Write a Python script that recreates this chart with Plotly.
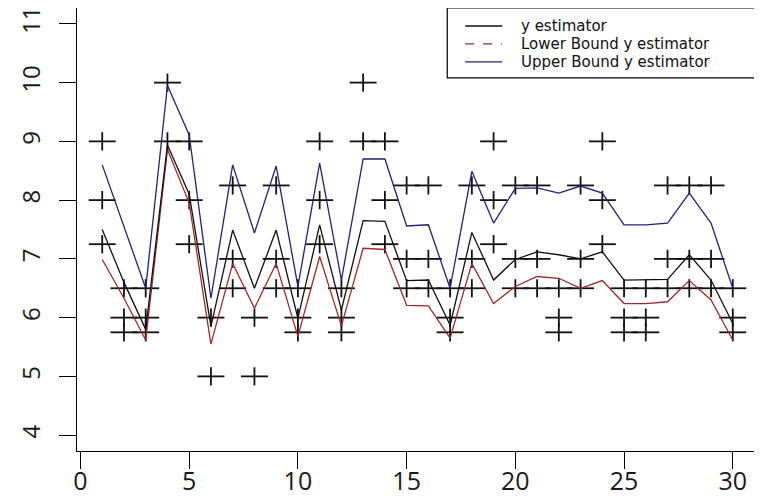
import plotly.graph_objects as go

# ---- data ----
x_idx = list(range(1, 31))
y_estimator = [7.50, 6.60, 5.80, 8.94, 8.10, 5.85, 7.49, 6.50, 7.49, 5.99,
               7.58, 6.13, 7.65, 7.64, 6.63, 6.64, 5.87, 7.45, 6.64, 6.99,
               7.12, 7.07, 7.00, 7.12, 6.64, 6.65, 6.65, 7.07, 6.64, 5.90]
lower_bound = [6.99, 6.33, 5.62, 8.86, 7.95, 5.55, 6.92, 6.16, 6.92, 5.68,
               7.04, 5.86, 7.18, 7.16, 6.21, 6.20, 5.65, 6.92, 6.24, 6.53,
               6.70, 6.67, 6.50, 6.63, 6.24, 6.24, 6.27, 6.63, 6.30, 5.62]
upper_bound = [8.60, 7.55, 6.50, 9.95, 9.11, 6.33, 8.60, 7.44, 8.58, 6.53,
               8.63, 6.64, 8.70, 8.70, 7.56, 7.58, 6.50, 8.49, 7.61, 8.20,
               8.21, 8.12, 8.24, 8.12, 7.58, 7.58, 7.61, 8.12, 7.61, 6.50]

# observed values at each index
obs_values = {
    1: [9, 8, 7.25], 2: [6.5, 6, 5.75], 3: [6.5, 6, 5.75], 4: [10, 9],
    5: [9, 8, 7.25], 6: [6, 5], 7: [8.25, 7, 6.5], 8: [6, 5],
    9: [8.25, 7, 6.5], 10: [6.5, 6, 5.75], 11: [9, 8, 7.25], 12: [6.5, 6, 5.75],
    13: [10, 9], 14: [9, 8, 7.25], 15: [8.25, 7, 6.5], 16: [8.25, 7, 6.5],
    17: [6.5, 6, 5.75], 18: [8.25, 7, 6.5], 19: [9, 8, 7.25], 20: [8.25, 7, 6.5],
    21: [8.25, 7, 6.5], 22: [6.5, 6, 5.75], 23: [8.25, 7, 6.5], 24: [9, 8, 7.25],
    25: [6.5, 6, 5.75], 26: [6.5, 6, 5.75], 27: [8.25, 7, 6.5], 28: [8.25, 7, 6.5],
    29: [8.25, 7, 6.5], 30: [6.5, 6, 5.75],
}
obs_x = [k for k, vals in obs_values.items() for _ in vals]
obs_y = [v for vals in obs_values.values() for v in vals]

x_ticks = [0, 5, 10, 15, 20, 25, 30]
y_ticks = [4, 5, 6, 7, 8, 9, 10, 11]

legend_labels = ["y estimator", "Lower Bound y estimator", "Upper Bound y estimator"]

# ---- styles ----
C_EST = "#111111"
C_LOW = "#9a2b2b"
C_UP = "#22227a"

fig = go.Figure()

# crosses (pch = 3) drawn as zero-cap error bars
fig.add_trace(go.Scatter(
    x=obs_x, y=obs_y, mode="markers",
    marker=dict(size=1, color="rgba(0,0,0,0)"),
    error_x=dict(type="constant", value=0.62, width=0, thickness=1.8, color="#111111"),
    error_y=dict(type="constant", value=0.155, width=0, thickness=1.8, color="#111111"),
    showlegend=False, hoverinfo="skip",
))

fig.add_trace(go.Scatter(x=x_idx, y=upper_bound, mode="lines",
                         line=dict(color=C_UP, width=1.3), showlegend=False))
fig.add_trace(go.Scatter(x=x_idx, y=lower_bound, mode="lines",
                         line=dict(color=C_LOW, width=1.3), showlegend=False))
fig.add_trace(go.Scatter(x=x_idx, y=y_estimator, mode="lines",
                         line=dict(color=C_EST, width=1.3), showlegend=False))

# manual R-style legend (box at top-right inside plot)
L, R, T, B = 0.5437, 0.9985, 1.0, 0.8422
shapes = [dict(type="rect", xref="paper", yref="paper", x0=L, x1=R, y0=B, y1=T,
               line=dict(color="black", width=1.2), fillcolor="white", layer="above")]
row_y = [0.9594, 0.9188, 0.8782]
line_styles = [(C_EST, "solid"), (C_LOW, "dash"), (C_UP, "solid")]
annotations = []
for ry, (col, dash), lab in zip(row_y, line_styles, legend_labels):
    shapes.append(dict(type="line", xref="paper", yref="paper",
                       x0=0.570, x1=0.6244, y0=ry, y1=ry,
                       line=dict(color=col, width=1.3, dash=dash), layer="above"))
    annotations.append(dict(xref="paper", yref="paper", x=0.6490, y=ry,
                            xanchor="left", yanchor="middle", text=lab, showarrow=False,
                            font=dict(family="DejaVu Sans", size=15, color="#111111")))

# page body has an 8px default margin, so the figure is sized to fit the window
fig.update_layout(
    width=754, height=494, autosize=False,
    margin=dict(l=68.5, r=4, t=0, b=50.5, pad=0),
    paper_bgcolor="white", plot_bgcolor="white",
    shapes=shapes, annotations=annotations,
    font=dict(family="Open Sans", color="#1a1a1a"),
    xaxis=dict(range=[-0.16, 31.16], tickvals=x_ticks, ticks="outside", ticklen=17,
               tickwidth=1.3, tickcolor="black", showline=True, linecolor="black",
               linewidth=1.3, mirror=True, showgrid=False, zeroline=False,
               automargin=False, ticklabelstandoff=-9, ticklabeloverflow="allow",
               tickfont=dict(size=25, family="Open Sans")),
    yaxis=dict(range=[3.73, 11.27], tickvals=y_ticks, ticks="outside", ticklen=17,
               tickwidth=1.3, tickcolor="black", showline=True, linecolor="black",
               linewidth=1.3, mirror=True, showgrid=False, zeroline=False,
               automargin=False, ticklabelstandoff=9, ticklabeloverflow="allow",
               tickangle=-90, tickfont=dict(size=24, family="Open Sans")),
)

fig.write_html("out.html")
